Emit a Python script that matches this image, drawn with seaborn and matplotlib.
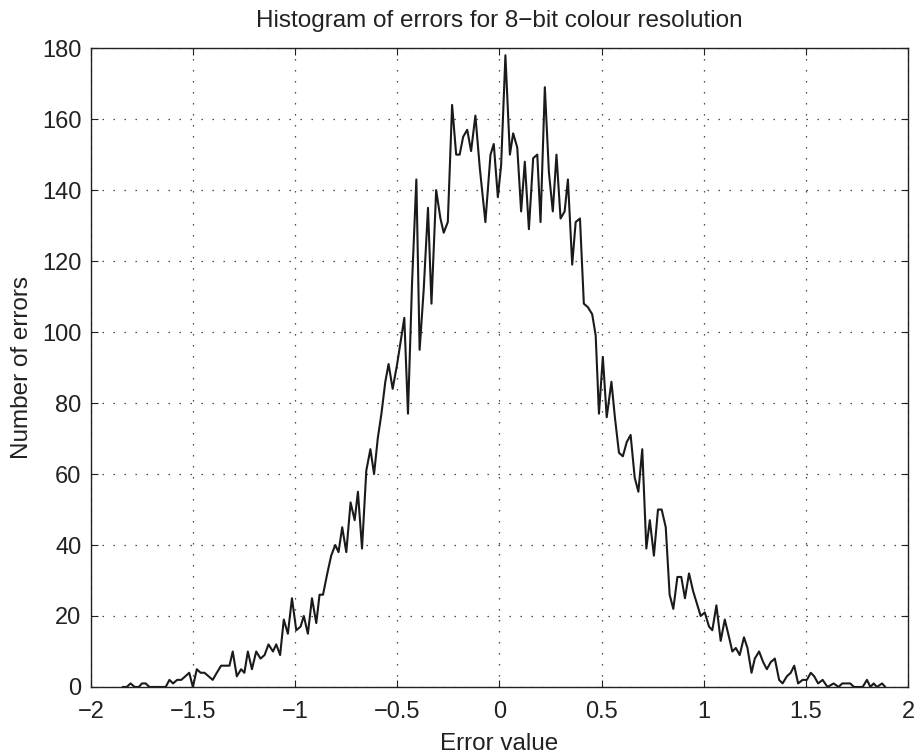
import matplotlib
matplotlib.use("Agg")
import matplotlib.pyplot as plt
import numpy as np
import pandas as pd
import seaborn as sns

# bin centres
err_x = [
    -1.845, -1.825, -1.806, -1.786, -1.766, -1.750, -1.732, -1.714, -1.694, -1.674,
    -1.654, -1.634, -1.616, -1.598, -1.578, -1.558, -1.538, -1.519, -1.501, -1.482,
    -1.463, -1.444, -1.424, -1.404, -1.384, -1.363, -1.343, -1.322, -1.306, -1.286,
    -1.265, -1.249, -1.232, -1.212, -1.191, -1.170, -1.150, -1.131, -1.109, -1.093,
    -1.074, -1.056, -1.036, -1.016, -0.995, -0.974, -0.958, -0.938, -0.918, -0.897,
    -0.881, -0.864, -0.843, -0.824, -0.804, -0.788, -0.770, -0.750, -0.729, -0.709,
    -0.693, -0.673, -0.652, -0.632, -0.614, -0.596, -0.578, -0.559, -0.543, -0.523,
    -0.501, -0.485, -0.466, -0.448, -0.428, -0.407, -0.391, -0.371, -0.350, -0.333,
    -0.310, -0.289, -0.273, -0.253, -0.232, -0.212, -0.195, -0.178, -0.158, -0.139,
    -0.118, -0.096, -0.069, -0.044, -0.028, -0.008, 0.008, 0.029, 0.051, 0.067,
    0.087, 0.106, 0.124, 0.144, 0.165, 0.185, 0.201, 0.222, 0.242, 0.261,
    0.279, 0.299, 0.319, 0.335, 0.356, 0.373, 0.394, 0.413, 0.433, 0.454,
    0.471, 0.487, 0.506, 0.525, 0.548, 0.565, 0.585, 0.604, 0.623, 0.642,
    0.662, 0.680, 0.699, 0.719, 0.736, 0.756, 0.776, 0.794, 0.814, 0.833,
    0.851, 0.871, 0.890, 0.908, 0.928, 0.948, 0.969, 0.985, 1.005, 1.026,
    1.042, 1.062, 1.083, 1.103, 1.124, 1.140, 1.157, 1.176, 1.197, 1.214,
    1.234, 1.250, 1.271, 1.291, 1.309, 1.328, 1.348, 1.369, 1.386, 1.407,
    1.426, 1.443, 1.462, 1.484, 1.505, 1.524, 1.541, 1.560, 1.582, 1.606,
    1.636, 1.660, 1.678, 1.697, 1.717, 1.736, 1.758, 1.778, 1.799, 1.816,
    1.832, 1.848, 1.873, 1.889,
]

# number of errors in each bin
err_count = [
    0, 0, 1, 0, 0, 1, 1, 0, 0, 0,
    0, 0, 2, 1, 2, 2, 3, 4, 0, 5,
    4, 4, 3, 2, 4, 6, 6, 6, 10, 3,
    5, 4, 10, 5, 10, 8, 9, 12, 10, 12,
    9, 19, 15, 25, 16, 17, 20, 15, 25, 18,
    26, 26, 32, 37, 40, 38, 45, 38, 52, 47,
    55, 39, 61, 67, 60, 70, 77, 86, 91, 84,
    91, 97, 104, 77, 114, 143, 95, 112, 135, 108,
    140, 132, 128, 131, 164, 150, 150, 155, 157, 151,
    161, 146, 131, 150, 153, 138, 147, 178, 150, 156,
    152, 134, 148, 129, 149, 150, 131, 169, 145, 134,
    150, 132, 134, 143, 119, 131, 132, 108, 107, 105,
    99, 77, 93, 76, 86, 76, 66, 65, 69, 71,
    59, 55, 67, 39, 47, 37, 50, 50, 45, 26,
    22, 31, 31, 25, 32, 27, 23, 20, 21, 17,
    16, 23, 13, 19, 14, 10, 11, 9, 14, 11,
    4, 8, 10, 7, 5, 7, 8, 2, 1, 3,
    4, 6, 1, 2, 2, 4, 3, 1, 2, 0,
    1, 0, 1, 1, 1, 0, 0, 0, 2, 0,
    1, 0, 1, 0,
]

x_ticks = [-2, -1.5, -1, -0.5, 0, 0.5, 1, 1.5, 2]
x_tick_labels = ["\u22122", "\u22121.5", "\u22121", "\u22120.5", "0", "0.5", "1", "1.5", "2"]
y_ticks = [0, 20, 40, 60, 80, 100, 120, 140, 160, 180]

df = pd.DataFrame({"Error value": err_x, "Number of errors": err_count})

sns.set_style("white")
plt.rcParams["font.family"] = ["Liberation Sans", "DejaVu Sans"]

fig = plt.figure(figsize=(9.18, 7.56), dpi=100)
ax = fig.add_axes([0.0991, 0.0913, 0.890, 0.845])

sns.lineplot(data=df, x="Error value", y="Number of errors", ax=ax,
             color="#1a1a1a", linewidth=1.5, sort=False)

ax.set_xlim(-2, 2)
ax.set_ylim(0, 180)
ax.set_xticks(x_ticks)
ax.set_xticklabels(x_tick_labels)
ax.set_yticks(y_ticks)
ax.tick_params(direction="in", length=5, width=0.8, colors="#222222",
               labelsize=17, pad=7, top=True, right=True, bottom=True, left=True)
ax.tick_params(axis="x", pad=10)
ax.grid(True, color="#333333", linestyle=(0, (1.1, 7.7)), linewidth=0.9)

for s in ax.spines.values():
    s.set_color("#222222")
    s.set_linewidth(1.0)

ax.set_title("Histogram of errors for 8\u2212bit colour resolution", fontsize=17.5, color="#222222", pad=15)
ax.set_xlabel("Error value", fontsize=17.5, color="#222222", labelpad=7)
ax.set_ylabel("Number of errors", fontsize=17.5, color="#222222", labelpad=6)

fig.savefig("out.png", dpi=100)
